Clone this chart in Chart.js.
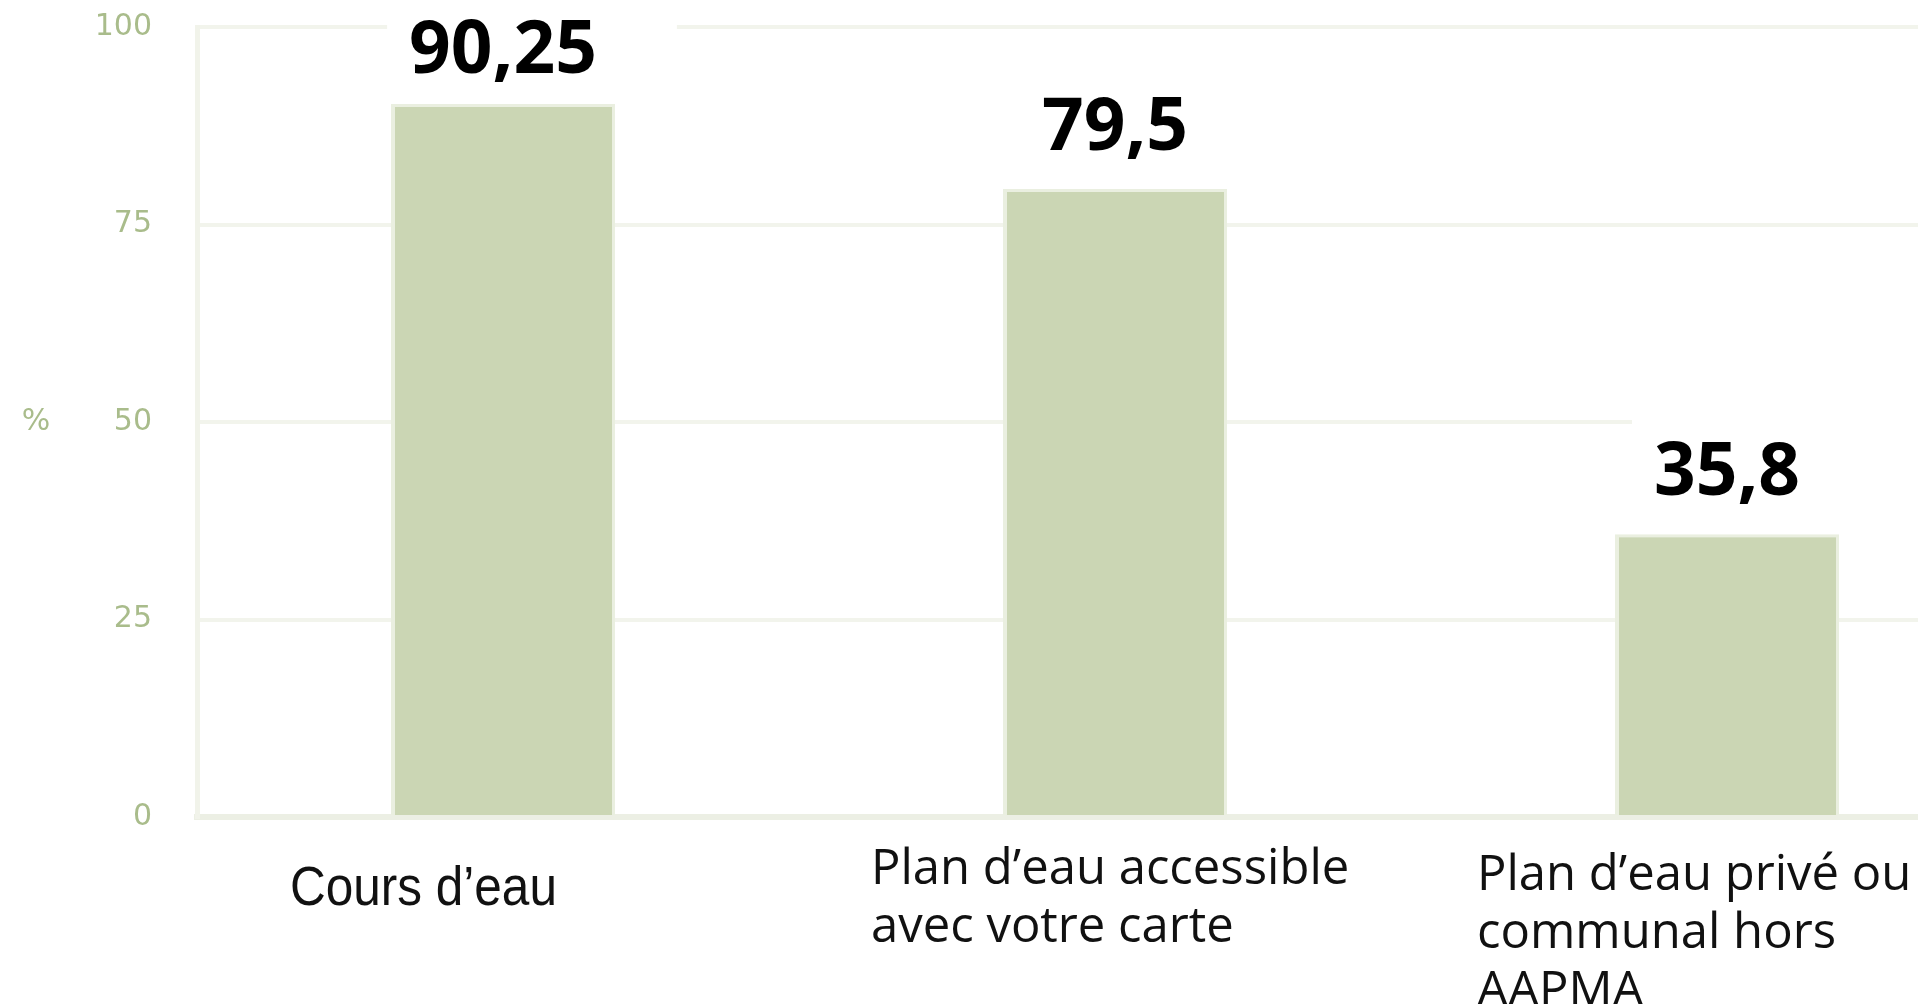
<!DOCTYPE html>
<html>
<head>
<meta charset="utf-8">
<script src="https://cdn.jsdelivr.net/npm/chart.js@4.4.1/dist/chart.umd.min.js"></script>
<style>
  html, body { margin: 0; padding: 0; background: #fff; overflow: hidden; }
  #wrap { width: 2040px; height: 1004px; position: relative; }
</style>
</head>
<body>
<div id="wrap"><canvas id="myChart"></canvas></div>
<script>
// data
var categories = [
  ["Cours d\u2019eau"],
  ["Plan d\u2019eau accessible", "avec votre carte"],
  ["Plan d\u2019eau priv\u00e9 ou", "communal hors", "AAPMA"]
];
var values = [90.25, 79.5, 35.8];
var valueLabels = ["90,25", "79,5", "35,8"];
var yTicks = [0, 25, 50, 75, 100];
var yTitle = "%";

// label styling (kept apart from the data)
var labelFont = ["55px 'Liberation Sans'", "49px 'Open Sans'", "49px 'Open Sans'"];
var labelSqueeze = [0.9, 1, 1];
var labelDx = [-213, -244, -250];
var labelBase = [905, 884, 890];
var boxPadRight = [80, 80, 200];
var tickGreen = "#a9bc8b";

var valueLabelPlugin = {
  id: "valueLabels",
  afterDatasetsDraw: function(chart) {
    var ctx = chart.ctx;
    var meta = chart.getDatasetMeta(0);
    ctx.save();
    ctx.font = "bold 73px 'Open Sans'";
    ctx.textAlign = "center";
    ctx.textBaseline = "alphabetic";
    meta.data.forEach(function(bar, i) {
      var txt = valueLabels[i];
      var w = ctx.measureText(txt).width;
      var base = Math.max(bar.y - 39, 73);
      ctx.fillStyle = "#fff";
      ctx.fillRect(bar.x - w / 2 - 22, base - 82, w + 22 + boxPadRight[i], 104);
      ctx.fillStyle = "#000";
      ctx.fillText(txt, bar.x, base);
    });
    ctx.restore();
  },
  afterDraw: function(chart) {
    var ctx = chart.ctx;
    var xs = chart.scales.x;
    var area = chart.chartArea;
    ctx.save();
    // y axis unit, drawn upright like the original
    ctx.fillStyle = tickGreen;
    ctx.font = "30px 'DejaVu Sans'";
    ctx.textAlign = "center";
    ctx.textBaseline = "middle";
    ctx.fillText(yTitle, 36, (area.top + area.bottom) / 2);

    ctx.fillStyle = "#111";
    ctx.textAlign = "left";
    ctx.textBaseline = "alphabetic";
    categories.forEach(function(lines, i) {
      ctx.font = labelFont[i];
      var x = xs.getPixelForValue(i) + labelDx[i];
      lines.forEach(function(line, j) {
        ctx.save();
        ctx.translate(x, labelBase[i] + j * 58);
        ctx.scale(labelSqueeze[i], 1);
        ctx.fillText(line, 0, 0);
        ctx.restore();
      });
    });
    ctx.restore();
  }
};

new Chart("myChart", {
  type: "bar",
  data: {
    labels: categories,
    datasets: [{
      data: values,
      backgroundColor: "#cbd6b4",
      borderColor: "#eaefe0",
      borderWidth: {left: 4, right: 3, top: 3, bottom: 0},
      borderSkipped: false,
      barPercentage: 0.366,
      categoryPercentage: 1
    }]
  },
  options: {
    responsive: true,
    maintainAspectRatio: false,
    animation: false,
    layout: {padding: {top: 27, left: 0, right: 7, bottom: 0}},
    plugins: {
      legend: {display: false},
      tooltip: {enabled: false}
    },
    scales: {
      x: {
        ticks: {display: false},
        grid: {display: false},
        border: {display: true, color: "#eceFE4", width: 6},
        afterFit: function(scale) { scale.height = 187; }
      },
      y: {
        min: 0,
        max: 100,
        afterBuildTicks: function(scale) {
          scale.ticks = yTicks.map(function(v) { return {value: v}; });
        },
        ticks: {
          color: tickGreen,
          padding: 45,
          font: {family: "'DejaVu Sans'", size: 30}
        },
        grid: {color: "#f2f4ec", lineWidth: 4, drawTicks: false},
        border: {display: true, color: "#f1f3ea", width: 5},
        afterFit: function(scale) {
          scale.width = 197;
          scale.paddingTop = 0;
          scale.paddingBottom = 0;
        }
      }
    }
  },
  plugins: [valueLabelPlugin]
});
</script>
</body>
</html>
